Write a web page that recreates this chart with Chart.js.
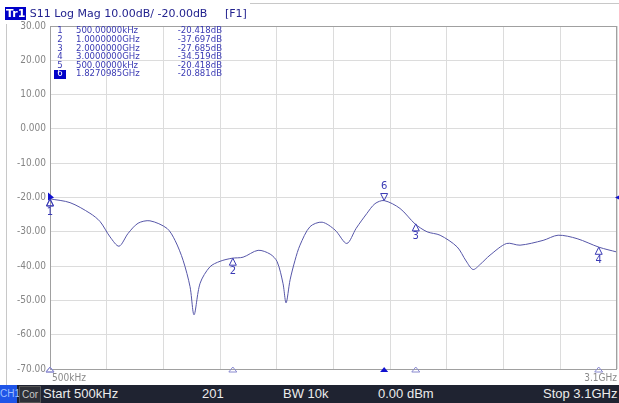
<!DOCTYPE html>
<html>
<head>
<meta charset="utf-8">
<script src="https://cdn.jsdelivr.net/npm/chart.js@4.4.1/dist/chart.umd.min.js"></script>
<style>
  body { margin: 0; background: #fff; }
  #wrap { position: relative; width: 619px; height: 403px; overflow: hidden; }
  #title { position: absolute; left: 5px; top: 7px; font: 11px "DejaVu Sans"; color: #23238f; white-space: pre; }
  #title .tr { background: #0000c8; color: #fff; font-weight: bold; padding: 0 1px; }
  #status { position: absolute; left: 0; top: 385px; width: 619px; height: 18px; background: #1f2331;
            font: 13px "Liberation Sans"; color: #ececec; white-space: nowrap; }
  #status span { position: absolute; top: 1px; }
  #status .ch { left: 0; top: 0; height: 18px; width: 17px; background: #1f55e8; color: #9fc0ff; font-size: 10px; line-height: 18px; text-align: center; }
  #status .cor { left: 19px; top: 1px; height: 15px; width: 20px; border: 1px solid #555; background: #2e3038; color: #c8c8c8; font-size: 10px; line-height: 15px; text-align: center; }
</style>
</head>
<body>
<div id="wrap">
  <canvas id="vna"></canvas>
  <div id="title"><span class="tr">Tr1</span> S11 Log Mag 10.00dB/ -20.00dB     [F1]</div>
  <div id="status">
    <span class="ch">CH1</span><span class="cor">Cor</span>
    <span style="left:43px">Start 500kHz</span>
    <span style="left:202px">201</span>
    <span style="left:283px">BW 10k</span>
    <span style="left:378px">0.00 dBm</span>
    <span style="left:543px">Stop 3.1GHz</span>
  </div>
</div>
<script>
// trace (GHz, dB)
const freqs = [0.0005, 0.110, 0.219, 0.274, 0.329, 0.378, 0.427, 0.482, 0.547, 0.640, 0.684, 0.728, 0.766, 0.788,
  0.821, 0.875, 0.930, 0.996, 1.056, 1.138, 1.204, 1.242, 1.274, 1.291, 1.313, 1.340, 1.367, 1.422, 1.488, 1.559,
  1.623, 1.674, 1.732, 1.777, 1.827, 1.914, 1.996, 2.062, 2.133, 2.226, 2.275, 2.313, 2.352, 2.406, 2.497, 2.570,
  2.696, 2.778, 2.882, 3.002, 3.100];
const s11 = [-20.4, -21.5, -24.6, -27.0, -31.5, -34.2, -30.5, -27.5, -26.8, -29.0, -32.5, -38.3, -46.0, -54.2,
  -45.0, -40.2, -38.6, -37.7, -37.4, -35.4, -36.5, -38.7, -45.0, -50.7, -44.0, -38.3, -33.9, -28.5, -27.2, -29.5,
  -33.4, -29.0, -24.7, -21.8, -20.9, -23.2, -27.7, -30.0, -31.0, -34.4, -38.5, -41.0, -39.5, -36.8, -33.4, -33.9,
  -32.5, -31.0, -32.0, -34.5, -35.9];

// marker table
const markerNums = ['1', '2', '3', '4', '5', '6'];
const markerFreqs = [0.0005, 1.0, 2.0, 3.0, 0.0005, 1.8270985];
const markerVals = [-20.418, -37.697, -27.685, -34.519, -20.418, -20.881];
const activeMarker = '6';

const yTicks = [30, 20, 10, 0, -10, -20, -30, -40, -50, -60, -70];
const refLevel = -20;

const MK = '#3a3ab4';

function fmtFreq(f) {
  return f < 1 ? (f * 1e6).toFixed(5) + 'kHz' : f.toFixed(7) + 'GHz';
}

const overlay = {
  id: 'overlay',
  afterDraw(chart) {
    const ctx = chart.ctx, a = chart.chartArea;
    const x = chart.scales.x, y = chart.scales.y;
    ctx.save();
    // frame
    ctx.strokeStyle = '#c8c8c8';
    ctx.lineWidth = 1;
    ctx.beginPath();
    ctx.moveTo(6.5, 24); ctx.lineTo(6.5, 385);
    ctx.moveTo(250, 3.5); ctx.lineTo(619, 3.5);
    ctx.stroke();
    ctx.strokeStyle = '#a0a0a0';
    ctx.strokeRect(a.left + 0.5, a.top + 0.5, a.right - a.left - 1, a.bottom - a.top);

    // start/stop labels
    ctx.fillStyle = '#8a8a8a';
    ctx.font = '10px "DejaVu Sans Condensed"';
    ctx.textBaseline = 'middle';
    ctx.textAlign = 'left';
    ctx.fillText('500kHz', a.left + 2, 378);
    ctx.textAlign = 'right';
    ctx.fillText('3.1GHz', a.right, 378);

    // reference level arrows
    const ry = y.getPixelForValue(refLevel);
    ctx.fillStyle = '#1010d0';
    ctx.beginPath();
    ctx.moveTo(a.left - 2, ry - 5); ctx.lineTo(a.left + 4, ry); ctx.lineTo(a.left - 2, ry + 3); ctx.closePath();
    ctx.fill();
    ctx.beginPath();
    ctx.moveTo(a.right + 2, ry - 2); ctx.lineTo(a.right - 2, ry); ctx.lineTo(a.right + 2, ry + 2); ctx.closePath();
    ctx.fill();

    // markers on trace
    ctx.font = '10px "DejaVu Sans"';
    ctx.textAlign = 'center';
    ctx.lineWidth = 1;
    markerNums.forEach((n, i) => {
      const px = x.getPixelForValue(markerFreqs[i]);
      const py = y.getPixelForValue(markerVals[i]);
      ctx.strokeStyle = MK;
      ctx.fillStyle = MK;
      ctx.beginPath();
      if (n === activeMarker) {
        ctx.moveTo(px, py); ctx.lineTo(px - 3.5, py - 7); ctx.lineTo(px + 3.5, py - 7); ctx.closePath();
        ctx.stroke();
        ctx.fillText(n, px, py - 14);
      } else {
        ctx.moveTo(px, py); ctx.lineTo(px - 3.5, py + 7); ctx.lineTo(px + 3.5, py + 7); ctx.closePath();
        ctx.stroke();
        if (n !== '5') ctx.fillText(n, px, py + 13);
      }
      // stimulus markers along the bottom
      ctx.beginPath();
      ctx.moveTo(px, a.bottom - 2); ctx.lineTo(px - 4, a.bottom + 3); ctx.lineTo(px + 4, a.bottom + 3); ctx.closePath();
      if (n === activeMarker) { ctx.fillStyle = '#1010d0'; ctx.fill(); }
      else { ctx.strokeStyle = '#8a8ad0'; ctx.stroke(); }
    });

    // marker table
    ctx.font = '9.5px "DejaVu Sans Condensed"';
    markerNums.forEach((n, i) => {
      const ty = 31 + i * 8.6;
      if (n === activeMarker) {
        ctx.fillStyle = '#0000c8';
        ctx.fillRect(54, ty - 4, 12, 9);
        ctx.fillStyle = '#fff';
      } else {
        ctx.fillStyle = MK;
      }
      ctx.textAlign = 'center';
      ctx.fillText(n, 60, ty);
      ctx.fillStyle = MK;
      ctx.textAlign = 'left';
      ctx.fillText(fmtFreq(markerFreqs[i]), 76, ty);
      ctx.textAlign = 'right';
      ctx.fillText(markerVals[i].toFixed(3) + 'dB', 222, ty);
    });
    ctx.restore();
  }
};

new Chart(document.getElementById('vna'), {
  type: 'line',
  data: {
    datasets: [{
      data: freqs.map((f, i) => ({ x: f, y: s11[i] })),
      borderColor: '#5656a8',
      borderWidth: 1,
      pointRadius: 0,
      tension: 0.3,
      fill: false
    }]
  },
  options: {
    responsive: true,
    maintainAspectRatio: false,
    animation: false,
    layout: { padding: { top: 26, right: 2, bottom: 34, left: 0 } },
    plugins: { legend: { display: false }, tooltip: { enabled: false } },
    scales: {
      x: {
        type: 'linear',
        min: 0.0005,
        max: 3.1,
        afterBuildTicks: s => {
          s.ticks = [];
          for (let i = 0; i <= 10; i++) s.ticks.push({ value: 0.0005 + i * (3.1 - 0.0005) / 10 });
        },
        afterFit: s => { s.height = 0; },
        ticks: { display: false },
        grid: { color: '#dcdcdc', drawTicks: false },
        border: { display: false }
      },
      y: {
        min: -70,
        max: 30,
        afterBuildTicks: s => { s.ticks = yTicks.map(v => ({ value: v })); },
        afterFit: s => { s.width = 50; },
        ticks: {
          color: '#858585',
          font: { family: 'DejaVu Sans Condensed', size: 10 },
          padding: 4,
          callback: v => v === 0 ? '0.000' : v.toFixed(2)
        },
        grid: { color: '#dcdcdc', drawTicks: false },
        border: { color: '#a0a0a0' }
      }
    }
  },
  plugins: [overlay]
});
</script>
</body>
</html>
